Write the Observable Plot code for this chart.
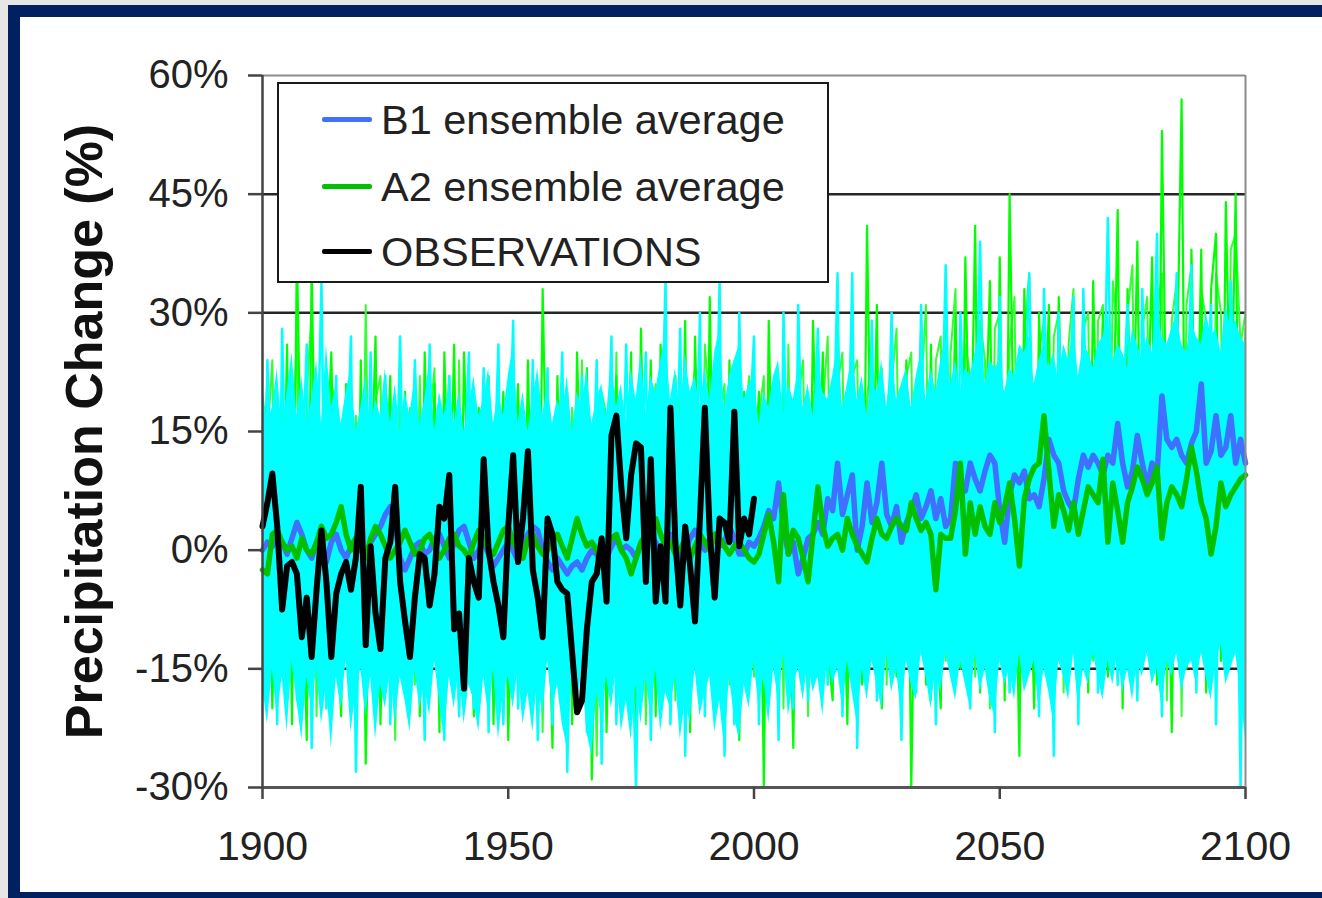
<!DOCTYPE html>
<html><head><meta charset="utf-8">
<script src="https://cdn.jsdelivr.net/npm/d3@7"></script>
<script src="https://cdn.jsdelivr.net/npm/@observablehq/plot@0.6"></script>
<style>
html,body{margin:0;padding:0;}
body{width:1322px;height:898px;background:#e6e6e6;position:relative;overflow:hidden;font-family:"Liberation Sans",Arial,sans-serif;}
#frame{position:absolute;left:8px;top:5px;width:1330px;height:900px;background:#002060;}
#inner{position:absolute;left:20px;top:17px;width:1310px;height:875px;background:#fff;}
#chart{position:absolute;left:0;top:0;z-index:1;}
#legend{position:absolute;left:277px;top:82px;width:552px;height:201px;box-sizing:border-box;border:2px solid #1a1a1a;background:#fff;z-index:2;}
.li{position:absolute;left:43px;width:50px;height:5px;border-radius:2px;}
.lt{position:absolute;left:102px;font-size:41.5px;line-height:41px;color:#222;white-space:nowrap;font-family:"Liberation Sans",Arial,sans-serif;}
</style></head>
<body>
<div id="frame"></div><div id="inner"></div>
<div id="chart"></div>
<div id="legend"></div>
<script>
// ---- data (percent change), years 1900..2100 ----
const years = d3.range(1900, 2101);
const obsYears = d3.range(1900, 2001);

const obsValues = [
 3,6,9.7,3,-7.5,-2,-1.5,-3,-11,-6,
 -13.5,-5,2.5,-4,-13.5,-5.5,-3,-1.5,-5,-1,
 8,-12,0.5,-8,-12.5,-1,1,8,-4,-9,
 -13.5,-6,-0.5,-1,-7,-3,5.5,4,9.5,-10,
 -8,-17.5,-1,-4,-6,11.5,0,-4,-7,-11,
 3,12,-1.5,4,12.5,-2.5,-6,-11,4,2,
 -4,-5,-5.5,-13,-20.5,-19,-10,-4,-3,1.5,
 -6.5,14.5,17,8,1.5,9.5,13.5,13,-4,11.5,
 -6.5,0.5,-6.5,18,1,-7,3,-2,-9,4,
 18,2,-6,4,3.5,1,17.5,0.5,4,2,
 6.5];

const b1Average = [
 0,1,0.5,2,1,-0.5,1.5,3.5,2,0,
 -1,1,0,-1.5,1,2,0,-1,0.5,1.5,
 0,-1,1,2,3,4.5,5.5,3,-1,-2.5,
 -1,0.5,1,-0.5,0,1.5,2,0.5,-1,1,
 2.5,3,1,-1,0,1,-0.5,-2,-1,0,
 1,0,-1.5,1,2,3,2.5,0,-1.5,-2.5,
 -1,-2,-3,-2,-1.5,-2.5,-1,0,-0.5,-2,
 -1,0.5,1.5,0,0.5,0,-1,1,0.5,2,
 1,-0.5,1,2,0.5,-1,0,1.5,2.5,1,
 0,1.5,2,0.5,1,3,1.5,-0.5,-0.5,1,
 0.5,1.5,3,5,4,8.5,3,-0.5,1,-3,
 -1,1.5,2,3.5,2,6.5,5,11,4.5,7,
 9.5,0,3,8.5,3.5,6,11,4.5,3,5.5,
 1,3.5,5,7,4,5.5,7.5,4,6.5,3,
 4,11,8,7.5,11,9,7.5,10,12,11,
 5,1,7,9.5,8.5,10,6.5,7,5.5,9,
 14,12,11,7.5,6,5,9,12,10.5,12,
 11,9.5,12,11,16,11,8,10,14.5,11,
 8,11,9.5,19.5,14,13,14,12,11,13.5,
 15,21,11,12.5,17,12,13,17,11,14,
 11];

const a2Average = [
 -2.5,-3,2,2.5,1,0,0.5,-1,1.5,0,
 -0.5,1,3,1.5,2,3.5,5.5,2,0,1.5,
 0.5,-1,1.5,3,2,0.5,-1,0,1,2.5,
 1,-0.5,0,1.5,2,0.5,-1,0,1.5,2,
 0.5,0,-1,1,2.5,1.5,0,-0.5,1,2.5,
 3,1,0,-1,1.5,2,0.5,-0.5,0,1,
 2,0.5,-1,1.5,4,2,0.5,1,0,-1.5,
 0,1.5,2,0,-1,-3,-1,1,2,3,
 4,2,0.5,1,-0.5,0,1.5,-1,0.5,2,
 1,0,2,1.5,0.5,-0.5,0.5,1,0,-1,
 -1.5,-0.5,2,4.5,1,-4,7,-0.5,2.5,1.5,
 -1,-4,2,8,3,0.5,1.5,2,0,4,
 2,0.5,-0.5,-1.5,1.5,4,2,1.5,3,4,
 3,2.5,6,4,2.5,3.5,2,-5,2,1.5,
 1.5,5,11,-0.5,6,2,5.5,3,2,6,
 3.5,5.5,8.5,4,-2,6.5,9,10.5,11,17,
 10,3,7,5,2.5,6,2,5,8,7,
 6,11.5,1,8.5,5,1,6,8,10.5,9,
 7,8.5,10.5,1.5,6,8,7,5.5,9,13,
 10,6,4,-0.5,3,8.5,5.5,7,8,9,
 9.5];

// A2 ensemble members
const a2MemberA = [
 5,22,-20,8,-6,26,-22,38,2,-24,
 36,-4,-20,10,25,-8,-21,21,3,-23,
 24,-27,6,27,-22,4,22,-19,7,20,
 -5,23,-21,25,-3,21,-23,25,0,26,
 -20,25,4,-21,18,-2,22,-22,6,20,
 -24,5,21,-19,24,-6,-21,33,1,-25,
 22,-5,20,-22,25,2,23,-29,4,19,
 -23,6,22,-20,3,25,-24,28,-3,24,
 -21,26,0,-20,22,-4,29,-23,27,2,
 -19,32,-6,22,-22,24,1,-24,20,-3,
 8,20,-30,29,-2,-21,24,3,-25,22,
 -4,-18,29,5,25,-12,-19,30,2,-22,
 27,-6,-17,41,0,31,-20,8,26,-16,
 6,24,-30,10,28,-17,26,-8,-20,32,
 4,30,-15,37,6,41,-18,12,34,-16,
 37,-19,45,8,-26,33,4,-20,30,10,
 31,-17,32,5,-15,29,2,31,-18,34,
 8,30,-16,12,43,-20,33,9,39,-14,
 14,37,-17,53,10,-23,20,57,-15,38,
 6,38,-18,33,40,-14,44,12,45,-20,
 28];

const a2MemberB = [
 -8,14,24,-15,18,-19,12,27,-17,20,
 30,-21,16,-12,21,18,-16,9,-19,17,
 -14,31,-9,19,22,-18,15,-24,20,-12,
 18,-17,22,-10,16,23,-19,12,22,-15,
 24,-18,17,19,-16,21,-20,14,18,-19,
 16,23,-14,15,-18,20,17,-23,19,-13,
 15,21,-20,18,-17,24,-22,12,-26,20,
 17,-16,25,-19,14,22,-17,19,-22,16,
 21,-18,24,15,-19,20,-21,17,23,-16,
 26,18,-20,16,21,-17,24,-19,15,22,
 -16,17,22,-19,21,18,-20,26,-14,19,
 24,-21,20,-15,18,27,-16,21,25,-19,
 22,24,-14,19,26,-18,23,-17,21,28,
 -13,22,25,-16,20,31,-19,24,27,-14,
 25,33,-12,26,22,-16,29,24,-20,28,
 30,-14,26,32,-17,27,35,-13,25,29,
 -15,27,30,-18,26,33,-12,28,30,-14,
 29,31,-13,34,27,-16,30,36,-18,28,
 32,-15,30,35,-19,29,34,-21,31,36,
 -13,33,29,-17,35,30,-12,38,40,26,
 30];

// B1 ensemble spread (dense core) and one B1 member
const b1SpreadHigh = [
 21,16,18,23,15,20,25,17,22,16,
 19,24,16,26,18,21,16,20,23,15,
 18,22,15,19,17,23,16,21,15,20,
 17,22,16,19,24,15,20,17,21,16,
 20,15,18,22,17,19,23,16,20,17,
 22,26,16,20,15,19,23,17,21,16,
 19,17,22,15,20,18,23,16,19,21,
 17,24,18,21,16,23,19,25,17,22,
 20,24,27,19,23,17,25,20,22,18,
 23,19,25,28,18,22,24,26,19,21,
 22,16,20,18,22,24,17,21,19,23,
 18,21,17,23,20,19,22,26,18,21,
 25,19,22,17,21,20,24,18,25,19,
 21,23,18,22,25,19,23,20,24,27,
 21,24,20,23,22,25,28,21,24,23,
 24,20,23,22,26,25,27,21,24,26,
 23,25,21,26,24,28,22,26,25,23,
 26,27,30,24,26,25,23,28,26,24,
 27,25,31,27,26,28,30,26,25,29,
 27,26,30,27,28,25,31,28,29,27,
 26];

const b1SpreadLow = [
 -17,-22,-15,-21,-16,-23,-14,-19,-24,-16,
 -20,-15,-22,-17,-25,-16,-20,-14,-23,-18,
 -15,-21,-16,-24,-17,-20,-15,-22,-16,-19,
 -23,-15,-20,-17,-21,-14,-19,-24,-16,-20,
 -15,-22,-17,-19,-23,-16,-21,-15,-24,-18,
 -16,-20,-15,-22,-18,-23,-16,-21,-14,-20,
 -17,-22,-25,-16,-20,-15,-23,-26,-18,-21,
 -16,-20,-15,-23,-19,-24,-17,-22,-16,-21,
 -15,-23,-18,-20,-16,-24,-19,-22,-15,-21,
 -18,-16,-23,-19,-25,-16,-21,-24,-17,-20,
 -14,-20,-16,-22,-15,-19,-13,-21,-17,-15,
 -19,-14,-18,-16,-21,-13,-17,-15,-20,-14,
 -18,-22,-15,-19,-14,-17,-20,-13,-18,-15,
 -21,-14,-17,-19,-13,-16,-20,-15,-18,-13,
 -16,-19,-14,-17,-20,-13,-18,-15,-19,-21,
 -14,-17,-15,-19,-13,-18,-16,-14,-20,-15,
 -18,-22,-14,-16,-19,-13,-20,-15,-17,-13,
 -16,-19,-14,-17,-13,-18,-15,-19,-14,-16,
 -13,-17,-15,-20,-14,-16,-13,-18,-15,-14,
 -17,-13,-16,-19,-14,-12,-17,-15,-13,-18,
 -24];

const b1Member = [
 -18,24,3,-22,28,-5,22,-19,8,26,
 -25,6,34,-20,2,22,-19,7,27,-28,
 4,-9,25,-20,10,22,-22,1,27,-6,
 -19,24,5,-24,26,-3,9,-24,22,0,
 -21,8,25,-20,3,23,-23,6,26,-22,
 4,29,-20,7,-4,24,-24,2,23,-22,
 5,25,-28,3,9,22,-23,4,24,-27,
 6,27,-22,1,26,-6,-30,10,25,-24,
 3,8,34,-22,5,28,-26,4,-2,30,
 -21,7,2,34,-26,6,-22,30,2,14,
 27,-22,8,4,12,-24,30,2,-20,31,
 5,-19,10,28,3,-17,9,35,-21,6,
 35,-25,8,4,29,-19,12,7,30,0,
 -24,10,14,-18,31,5,12,-22,9,36,
 4,-17,30,8,-20,11,39,6,14,-23,
 32,3,-18,13,9,16,35,5,-21,33,
 10,-26,30,7,15,32,-22,33,8,14,
 -18,12,42,6,-17,17,31,4,-19,33,
 11,16,40,-21,12,9,35,-16,14,36,
 -18,13,18,31,-22,15,-15,34,17,-30,
 22];

const yTicks = [-30, -15, 0, 15, 30, 45, 60];
const xTicks = [1900, 1950, 2000, 2050, 2100];
const gridLevels = [45, 30, 15, -15];

const legendItems = [
  {label: "B1 ensemble average", color: "#4070ff"},
  {label: "A2 ensemble average", color: "#00c000"},
  {label: "OBSERVATIONS", color: "#000000"}
];

// ---- build tables ----
const series = (vals, yrs) => vals.map((v, i) => ({year: yrs[i], v}));
const spread = years.map((y, i) => ({year: y, lo: b1SpreadLow[i], hi: b1SpreadHigh[i]}));

const chart = Plot.plot({
  width: 1322, height: 898,
  marginLeft: 262, marginRight: 77, marginTop: 75, marginBottom: 111,
  x: {domain: [1900, 2100]},
  y: {domain: [-30, 60]},
  style: {background: "transparent", fontFamily: "'Liberation Sans', Arial, sans-serif"},
  marks: [
    Plot.ruleY(gridLevels, {stroke: "#262626", strokeWidth: 2.5}),
    Plot.lineY(series(a2MemberB, years), {x: "year", y: "v", stroke: "#33ff33", strokeWidth: 2, clip: true}),
    Plot.lineY(series(a2MemberA, years), {x: "year", y: "v", stroke: "#00ff00", strokeWidth: 2.2, clip: true}),
    Plot.areaY(spread, {x: "year", y1: "lo", y2: "hi", fill: "#00ffff", clip: true}),
    Plot.lineY(series(b1Member, years), {x: "year", y: "v", stroke: "#00ffff", strokeWidth: 2.5, clip: true}),
    Plot.lineY(series(b1Average, years), {x: "year", y: "v", stroke: "#4070ff", strokeWidth: 5.5}),
    Plot.lineY(series(a2Average, years), {x: "year", y: "v", stroke: "#00c000", strokeWidth: 5.5}),
    Plot.lineY(series(obsValues, obsYears), {x: "year", y: "v", stroke: "#000000", strokeWidth: 6}),
    Plot.ruleY([60], {stroke: "#8c8c8c", strokeWidth: 2}),
    Plot.ruleX([2100], {stroke: "#8c8c8c", strokeWidth: 2}),
    Plot.ruleY([-30], {stroke: "#555555", strokeWidth: 3}),
    Plot.ruleX([1900], {stroke: "#444444", strokeWidth: 2.5}),
    Plot.axisY({ticks: yTicks, tickFormat: d => d + "%", tickSize: 14, tickPadding: 20, fontSize: 40, stroke: "#444", strokeWidth: 2.5, fill: "#222", label: null}),
    Plot.axisX({ticks: xTicks, tickFormat: d => String(d), tickSize: 12, tickPadding: 31, fontSize: 41, stroke: "#444", strokeWidth: 2.5, fill: "#222", label: null}),
    Plot.text(["Precipitation Change (%)"], {frameAnchor: "left", textAnchor: "middle", lineAnchor: "middle", dx: -177, rotate: -90, fontSize: 52, fontWeight: "bold", fill: "#111"})
  ]
});
document.getElementById("chart").appendChild(chart);

// legend (drawn over the plot, opaque like the original)
const leg = document.getElementById("legend");
const rowCenters = [35, 102, 167];
legendItems.forEach((it, i) => {
  const ln = document.createElement("div");
  ln.className = "li";
  ln.style.top = (rowCenters[i] - 2.5) + "px";
  ln.style.background = it.color;
  leg.appendChild(ln);
  const tx = document.createElement("div");
  tx.className = "lt";
  tx.style.top = (rowCenters[i] - 20) + "px";
  tx.textContent = it.label;
  leg.appendChild(tx);
});
</script>
</body></html>
